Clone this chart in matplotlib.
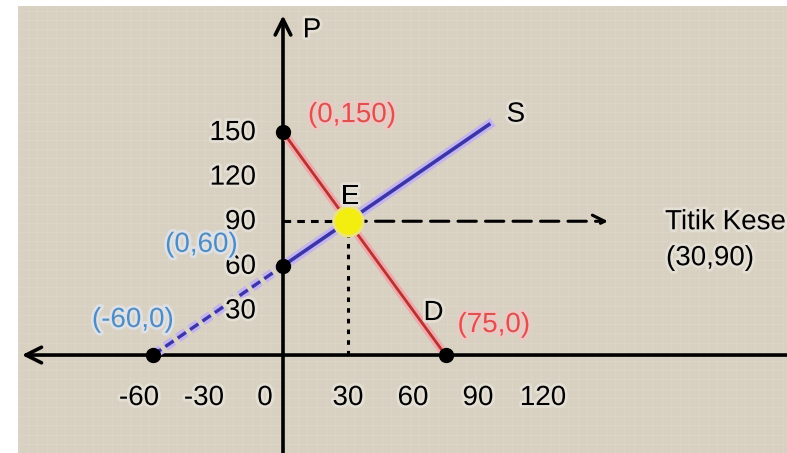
import numpy as np
import matplotlib.pyplot as plt
import matplotlib.patheffects as pe

# demand / supply data (Q, P)
demand_q = [0, 75]
demand_p = [150, 0]
supply_q = [0, 95]
supply_p = [60, 155]
supply_ext_q = [-60, 0]
supply_ext_p = [0, 60]
eq_q, eq_p = 30, 90
dots_q = [0, 0, -60, 75]
dots_p = [150, 60, 0, 0]

xtick_vals = [-60, -30, 0, 30, 60, 90, 120]
ytick_vals = [30, 60, 90, 120, 150]

bg = "#d8d1c1"
red = "#b8322e"
red_glow = "#f0a8ac"
blue = "#3a35a8"
blue_glow = "#c4b4ee"
red_txt = "#e0504c"
blue_txt = "#4f8cc4"

plt.rcParams["font.family"] = ["Liberation Sans", "DejaVu Sans"]

fig = plt.figure(figsize=(7.87, 4.53), dpi=100)
fig.patch.set_facecolor("white")
ax = fig.add_axes([18 / 787, 0, 769 / 787, 447 / 453])
ax.set_facecolor(bg)
ax.set_xlim(-122.3, 232.6)
ax.set_ylim(-65.9, 234.8)
for s in ax.spines.values():
    s.set_visible(False)
ax.set_xticks([])
ax.set_yticks([])

# faint linen texture of the paper
for gx in np.arange(-122, 233, 4.3):
    ax.axvline(gx, color="#e2dccf", lw=0.8, alpha=0.45, zorder=0)
for gy in np.arange(-66, 235, 6.2):
    ax.axhline(gy, color="#e2dccf", lw=0.8, alpha=0.45, zorder=0)

glow_txt = [pe.withStroke(linewidth=4, foreground="#e4dfd4")]

# axes with arrows
ax.annotate("", xy=(-120.5, 0), xytext=(232.6, 0),
            arrowprops=dict(arrowstyle="->", lw=2.6, color="black",
                            mutation_scale=28, shrinkA=0, shrinkB=0))
ax.annotate("", xy=(0, 228.5), xytext=(0, -65.9),
            arrowprops=dict(arrowstyle="->", lw=2.6, color="black",
                            mutation_scale=28, shrinkA=0, shrinkB=0))

# demand line
ax.plot(demand_q, demand_p, color=red, lw=2.0,
        path_effects=[pe.Stroke(linewidth=6, foreground=red_glow), pe.Normal()], zorder=3)
# supply line
ax.plot(supply_q, supply_p, color=blue, lw=2.6,
        path_effects=[pe.Stroke(linewidth=7, foreground=blue_glow), pe.Normal()], zorder=3)
ax.plot(supply_ext_q, supply_ext_p, color=blue, lw=2.4, dashes=(3, 1.5),
        path_effects=[pe.Stroke(linewidth=7, foreground=blue_glow), pe.Normal()], zorder=3)

# guide lines from E
ax.plot([0, eq_q], [eq_p, eq_p], color="black", lw=2.2, dashes=(2.5, 2), zorder=2)
ax.annotate("", xy=(150, eq_p), xytext=(eq_q, eq_p),
            arrowprops=dict(arrowstyle="->", lw=2.2, color="black", ls=(0, (6, 3)),
                            mutation_scale=22, shrinkA=0, shrinkB=0), zorder=2)
ax.plot([eq_q, eq_q], [0, eq_p], color="black", lw=2.2, dashes=(1.5, 2), zorder=2)

# points
ax.plot(dots_q, dots_p, "o", color="black", ms=10, zorder=5)
ax.plot([eq_q], [eq_p], "o", color="#f4ee10", mec="#ece47a", mew=2, ms=21, zorder=6)

fs = 20
# tick labels
for v in xtick_vals:
    dx = -18 if v == 0 else (-14 if v < 0 else 0)
    ax.annotate(str(v), (v, 0), xytext=(dx, -43), textcoords="offset pixels",
                ha="center", va="center", fontsize=fs, path_effects=glow_txt)
for v in ytick_vals:
    ax.annotate(str(v), (0, v), xytext=(-27, -1), textcoords="offset pixels",
                ha="right", va="center", fontsize=fs, path_effects=glow_txt)

# annotations
ax.annotate("P", (0, 228.5), xytext=(29, -15), textcoords="offset pixels",
            ha="center", va="center", fontsize=fs, path_effects=glow_txt)
ax.annotate("S", (supply_q[-1], supply_p[-1]), xytext=(27, 10), textcoords="offset pixels",
            ha="center", va="center", fontsize=fs, path_effects=glow_txt)
ax.annotate("D", (demand_q[-1], 0), xytext=(-12, 42), textcoords="offset pixels",
            ha="center", va="center", fontsize=fs, path_effects=glow_txt)
ax.annotate("E", (eq_q, eq_p), xytext=(2, 24), textcoords="offset pixels",
            ha="center", va="center", fontsize=fs, path_effects=glow_txt, zorder=7)
ax.annotate("(0,150)", (0, 150), xytext=(25, 17), textcoords="offset pixels",
            ha="left", va="center", fontsize=fs, color=red_txt,
            path_effects=[pe.withStroke(linewidth=4, foreground="#ecc8c4")])
ax.annotate("(75,0)", (75, 0), xytext=(12, 30), textcoords="offset pixels",
            ha="left", va="center", fontsize=fs, color=red_txt,
            path_effects=[pe.withStroke(linewidth=4, foreground="#ecc8c4")])
ax.annotate("(0,60)", (0, 60), xytext=(-45, 21), textcoords="offset pixels",
            ha="right", va="center", fontsize=fs, color=blue_txt,
            path_effects=[pe.withStroke(linewidth=4, foreground="#dde0e4")])
ax.annotate("(-60,0)", (-60, 0), xytext=(-20, 35), textcoords="offset pixels",
            ha="center", va="center", fontsize=fs, color=blue_txt,
            path_effects=[pe.withStroke(linewidth=4, foreground="#dde0e4")])
ax.annotate("Titik Kese", (150, eq_p), xytext=(57, -1), textcoords="offset pixels",
            ha="left", va="center", fontsize=fs, path_effects=glow_txt)
ax.annotate("(30,90)", (150, eq_p), xytext=(58, -37), textcoords="offset pixels",
            ha="left", va="center", fontsize=fs, path_effects=glow_txt)

fig.savefig("out.png", dpi=100, facecolor=fig.get_facecolor())
